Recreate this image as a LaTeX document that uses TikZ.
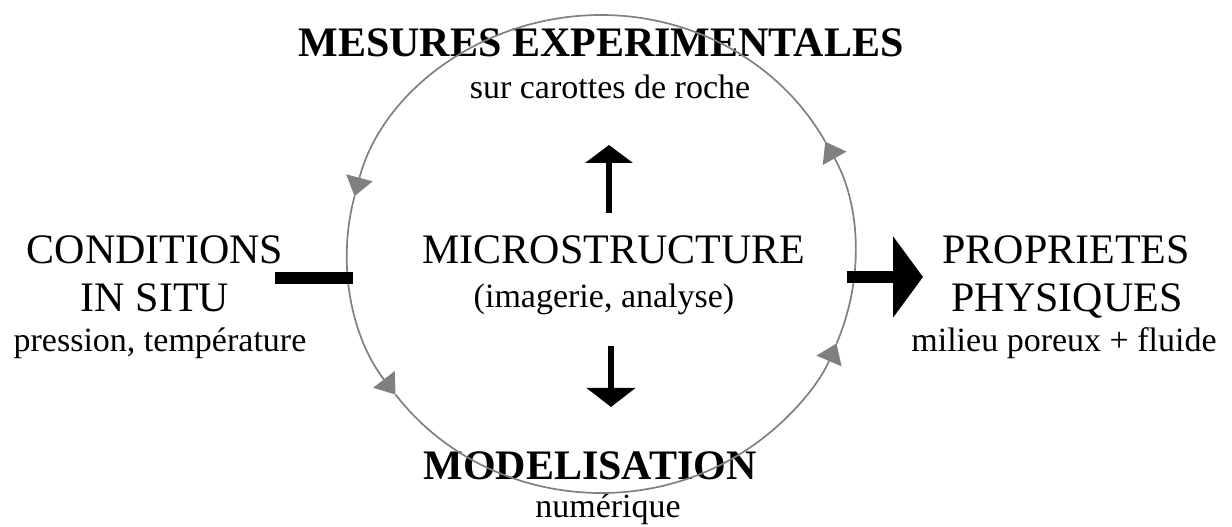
\documentclass[tikz,border=0pt]{standalone}
\usepackage{fontspec}
\setmainfont{Liberation Serif}
\usetikzlibrary{arrows.meta,calc}
\tikzset{
  big/.style={font=\fontsize{42}{48}\selectfont, anchor=base, inner sep=0pt},
  bigb/.style={font=\fontsize{42}{48}\selectfont\bfseries, anchor=base, inner sep=0pt},
  small/.style={font=\fontsize{34}{40}\selectfont, anchor=base, inner sep=0pt},
  ring/.style={draw=gray, line width=1.7pt},
  ringtip/.style={ring, -{Triangle[length=19pt,width=27pt]}},
  blk/.style={draw=black, line width=5.5pt},
}
\begin{document}
\begin{tikzpicture}[x=1pt,y=1pt]
\useasboundingbox (0,0) rectangle (1232,527);
\coordinate (c) at (601,273);
% texts
\node[bigb] (mes) at (601,470) {MESURES EXPERIMENTALES};
\node[small] (sur) at (610,428) {sur carottes de roche};
\node[big] (micro) at (614,263) {MICROSTRUCTURE};
\node[small] (ima) at (604,219) {(imagerie, analyse)};
\node[big] (cond) at (155,263) {CONDITIONS};
\node[big] (insitu) at (155,215) {IN SITU};
\node[small] (pres) at (160,175) {pression, température};
\node[big] (prop) at (1066,263) {PROPRIETES};
\node[big] (phys) at (1067,215) {PHYSIQUES};
\node[small] (mil) at (1064,175) {milieu poreux + fluide};
\node[bigb] (mod) at (590,47) {MODELISATION};
\node[small] (num) at (608,9) {numérique};
% ring
\foreach \a in {90,166,216,338,388,450}{
  \coordinate (r\a) at ($(c)+(\a:254pt and 239pt)$);
}
\draw[ringtip] (r90) arc[start angle=90,end angle=166,x radius=254pt,y radius=239pt];
\draw[ringtip] (r166) arc[start angle=166,end angle=216,x radius=254pt,y radius=239pt];
\draw[ringtip] (r216) arc[start angle=216,end angle=338,x radius=254pt,y radius=239pt];
\draw[ringtip] (r338) arc[start angle=338,end angle=388,x radius=254pt,y radius=239pt];
\draw[ring] (r388) arc[start angle=388,end angle=450,x radius=254pt,y radius=239pt];
% black arrows
\coordinate (upS) at (609,314);
\coordinate (upE) at (609,382);
\coordinate (dnS) at (611,181);
\coordinate (dnE) at (611,120);
\coordinate (lbS) at (275,249);
\coordinate (lbE) at (353,249);
\coordinate (raS) at (847,250);
\coordinate (raE) at (923,250);
\draw[blk, -{Triangle[length=18pt,width=47pt]}] (upS) -- (upE);
\draw[blk, -{Triangle[length=19pt,width=48pt]}] (dnS) -- (dnE);
\draw[draw=black, line width=12pt] (lbS) -- (lbE);
\draw[draw=black, line width=12pt, -{Triangle[length=30pt,width=80pt]}] (raS) -- (raE);
\end{tikzpicture}
\end{document}
